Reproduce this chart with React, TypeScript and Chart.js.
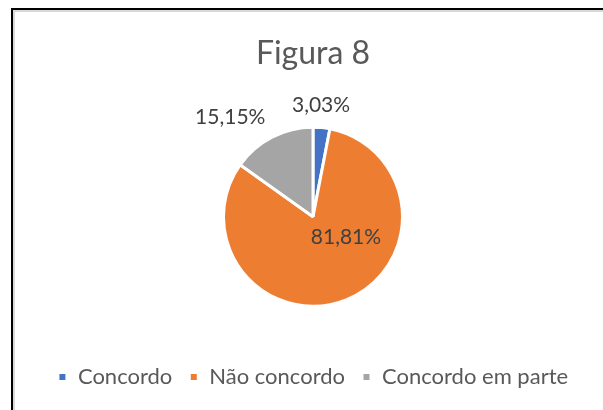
import React, { useEffect, useRef } from "react";
import { Chart, registerables } from "chart.js";

Chart.register(...registerables);

const TITLE = "Figura 8";
const CATEGORIES = ["Concordo", "Não concordo", "Concordo em parte"];
const VALUES = [3.03, 81.81, 15.15];
const VALUE_LABELS = ["3,03%", "81,81%", "15,15%"];
const COLORS = ["#4472C4", "#ED7D31", "#A5A5A5"];

const FONT = "Lato, 'Open Sans', sans-serif";
const TITLE_SIZE = 32;
const LEGEND_SIZE = 22;
const LABEL_SIZE = 21;

// label placement: outside labels sit beyond the rim, the inside one is nudged
const LABEL_LAYOUT = [
  { outside: true, k: 1.18, nudge: [-2, 0] },
  { outside: false, k: 0.33, nudge: [22, 0] },
  { outside: true, k: 1.16, nudge: [0, 0] },
];

const sliceLabels = {
  id: "sliceLabels",
  afterDatasetsDraw(chart: any) {
    const meta = chart.getDatasetMeta(0);
    const ctx = chart.ctx;
    ctx.save();
    ctx.font = `${LABEL_SIZE}px ${FONT}`;
    ctx.fillStyle = "#404040";
    ctx.textBaseline = "alphabetic";
    meta.data.forEach((arc: any, i: number) => {
      const p = arc.getProps(["x", "y", "startAngle", "endAngle", "outerRadius"], true);
      const mid = (p.startAngle + p.endAngle) / 2;
      const c = Math.cos(mid);
      const s = Math.sin(mid);
      const lay = LABEL_LAYOUT[i];
      const px = p.x + c * lay.k * p.outerRadius + lay.nudge[0];
      const py = p.y + s * lay.k * p.outerRadius + lay.nudge[1];
      if (lay.outside) {
        ctx.textAlign = c < -0.3 ? "right" : c > 0.3 ? "left" : "center";
      } else {
        ctx.textAlign = "center";
      }
      ctx.fillText(VALUE_LABELS[i], px, py);
    });
    ctx.restore();
  },
};

export default function App() {
  const ref = useRef<HTMLCanvasElement | null>(null);

  useEffect(() => {
    if (!ref.current) return;
    const chart = new Chart(ref.current, {
      type: "pie",
      data: {
        labels: CATEGORIES,
        datasets: [
          {
            data: VALUES,
            backgroundColor: COLORS,
            borderColor: "#ffffff",
            borderWidth: 3,
            radius: 89.5,
          },
        ],
      },
      options: {
        animation: false,
        responsive: false,
        maintainAspectRatio: false,
        layout: { padding: { top: 0, bottom: 12, left: 0, right: 0 } },
        plugins: {
          title: {
            display: true,
            text: TITLE,
            color: "#595959",
            font: { family: FONT, size: TITLE_SIZE, weight: "normal" },
            padding: { top: 22, bottom: 12 },
          },
          legend: {
            display: true,
            position: "bottom",
            labels: {
              color: "#595959",
              font: { family: FONT, size: LEGEND_SIZE },
              boxWidth: 9,
              boxHeight: 9,
              padding: 17,
            },
          },
          tooltip: { enabled: false },
        },
      },
      plugins: [sliceLabels],
    });
    return () => chart.destroy();
  }, []);

  return (
    <div
      style={{
        position: "fixed",
        left: 0,
        top: 0,
        width: 603,
        height: 410,
        overflow: "hidden",
        background: "#ffffff",
      }}
    >
      <div
        style={{
          position: "absolute",
          left: 11,
          top: 8,
          width: 640,
          height: 440,
          border: "2px solid #000000",
          boxSizing: "border-box",
        }}
      >
        <div
          style={{
            position: "absolute",
            left: 0,
            top: 0,
            right: 0,
            bottom: 0,
            border: "2px solid #D9D9D9",
          }}
        >
          <canvas ref={ref} width={596} height={398} style={{ display: "block" }} />
        </div>
      </div>
    </div>
  );
}
